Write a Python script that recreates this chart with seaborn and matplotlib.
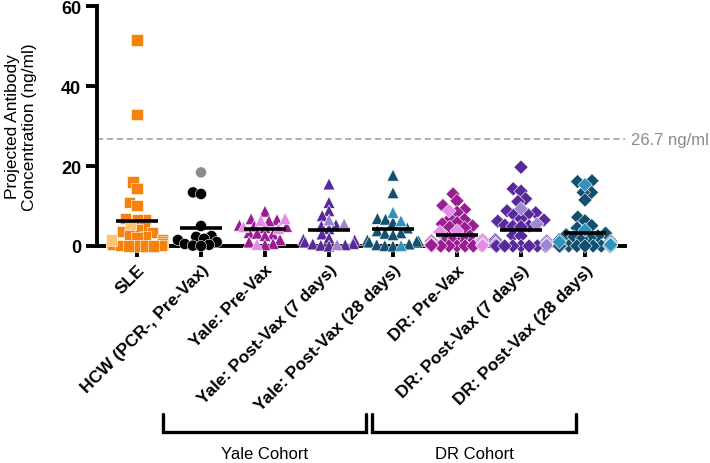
import warnings
import pandas as pd
import matplotlib.pyplot as plt
import matplotlib.transforms as mtransforms
from matplotlib.lines import Line2D
import seaborn as sns

warnings.filterwarnings("ignore")

# ================================================================
# DATA
# ================================================================
groups = ["SLE", "HCW (PCR-, Pre-Vax)", "Yale: Pre-Vax", "Yale: Post-Vax (7 days)",
          "Yale: Post-Vax (28 days)", "DR: Pre-Vax", "DR: Post-Vax (7 days)",
          "DR: Post-Vax (28 days)"]

sle_dark = [51.5, 32.8, 16.0, 14.3, 10.8, 10.2, 6.8, 6.7, 6.5, 4.5, 4.0, 3.6, 3.3, 2.8,
            2.3, 2.0, 1.5, 1.2, 1.0, 0.8, 0.5, 0.3, 0.2, 0.1, 0.0, 0.0, 0.0, 0.0]
sle_light = [5.3, 1.5]

hcw_dark = [13.4, 13.0, 5.0, 2.5, 2.3, 1.8, 1.5, 1.0, 0.5, 0.3, 0.1, 0.0]
hcw_light = [18.4]

yale_pre_dark = [8.7, 6.8, 6.6, 6.3, 5.2, 5.0, 4.9, 4.6, 3.4, 3.2, 3.0, 2.6, 1.6, 1.0, 0.6, 0.3]
yale_pre_light = [6.9, 6.4, 4.8, 4.4, 0.4]

yale_d7_dark = [15.5, 10.9, 8.8, 7.6, 5.3, 5.0, 4.3, 3.0, 2.0, 1.7, 1.5, 1.0, 0.6, 0.5,
                0.3, 0.2, 0.0]
yale_d7_light = [6.5, 5.5, 0.3]

yale_d28_dark = [17.7, 13.3, 6.9, 6.7, 5.9, 4.5, 3.8, 3.3, 3.2, 2.8, 1.5, 1.3, 1.2, 1.0,
                 0.5, 0.3, 0.1, 0.0]
yale_d28_light = [8.4, 6.3, 0.1]

dr_pre_dark = [13.0, 11.3, 10.1, 9.1, 8.4, 6.8, 6.6, 5.8, 5.5, 5.0, 4.7, 4.5, 2.5, 2.2,
               2.0, 1.8, 1.5, 1.3, 1.0, 0.8, 0.6, 0.5, 0.3, 0.2, 0.1, 0.0, 0.0, 0.0,
               0.1, 0.2, 0.3, 0.0, 0.4, 0.5, 0.2, 0.1, 0.3, 0.1, 0.2, 0.0]
dr_pre_light = [8.8, 3.8, 3.5, 1.2, 0.4, 0.1]

dr_d7_dark = [19.7, 14.3, 13.7, 11.8, 11.1, 8.8, 8.3, 7.9, 7.8, 6.8, 6.5, 6.2, 5.2, 5.0,
              4.9, 4.8, 2.6, 2.5, 1.5, 1.2, 1.0, 0.8, 0.6, 0.5, 0.4, 0.3, 0.2, 0.2, 0.1,
              0.1, 0.0, 0.0, 0.0, 0.0, 0.0, 0.0, 0.0, 0.0]
dr_d7_light = [9.3, 5.5, 0.3, 0.2]

dr_d28_dark = [16.3, 16.1, 13.4, 13.4, 11.5, 7.2, 6.3, 5.1, 4.5, 3.2, 2.8, 2.5, 2.3, 2.0,
               1.8, 1.5, 1.2, 1.0, 0.8, 0.6, 0.5, 0.4, 0.3, 0.2, 0.2, 0.1, 0.1, 0.0,
               0.0, 0.0, 0.0, 0.0, 0.0, 0.0, 0.0, 0.0, 0.0, 0.0]
dr_d28_light = [15.3, 4.0, 1.0, 0.5, 0.3]

dark_values = [sle_dark, hcw_dark, yale_pre_dark, yale_d7_dark, yale_d28_dark,
               dr_pre_dark, dr_d7_dark, dr_d28_dark]
light_values = [sle_light, hcw_light, yale_pre_light, yale_d7_light, yale_d28_light,
                dr_pre_light, dr_d7_light, dr_d28_light]

dark_colors = ["#F5820F", "#000000", "#9A1E92", "#58299A", "#134F6E",
               "#9A1E92", "#58299A", "#134F6E"]
light_colors = ["#FFC46E", "#8C8C8C", "#E48CE6", "#9F86D4", "#2F93BD",
                "#E48CE6", "#9F86D4", "#2F93BD"]
markers = ["s", "o", "^", "^", "^", "D", "D", "D"]
marker_sizes = [8, 8, 8.5, 8.5, 8.5, 7.3, 7.3, 7.3]

threshold = 26.7

# ================================================================
# BUILD TABLE
# ================================================================
rows = []
palette = {}
for g, dv, lv, dc, lc in zip(groups, dark_values, light_values, dark_colors, light_colors):
    for v in dv:
        rows.append({"group": g, "value": v, "key": g + "|dark"})
    for v in lv:
        rows.append({"group": g, "value": v, "key": g + "|light"})
    palette[g + "|dark"] = dc
    palette[g + "|light"] = lc
df = pd.DataFrame(rows)

# ================================================================
# PLOT
# ================================================================
sns.set_style("ticks", {"axes.edgecolor": "black", "xtick.color": "black",
                        "ytick.color": "black", "text.color": "black",
                        "axes.labelcolor": "black"})
plt.rcParams["font.family"] = ["Liberation Sans", "DejaVu Sans"]

fig = plt.figure(figsize=(7.1, 4.64), dpi=100)
ax = fig.add_axes([97 / 710, 1 - 247 / 464, (625 - 97) / 710, (247 - 7) / 464])

# swarm laid out with a slightly smaller marker so points pack tightly
# (GraphPad-like), then drawn with the full marker size
collections_by_group = []
for g, m in zip(groups, markers):
    n_before = len(ax.collections)
    sub = df[df["group"] == g]
    sns.swarmplot(data=sub, x="group", y="value", hue="key", order=groups,
                  palette=palette, marker=m, size=5.2, edgecolor="white",
                  linewidth=0.4, legend=False, ax=ax, zorder=3)
    collections_by_group.append(ax.collections[n_before:])

ax.set_xlim(-0.625, 7.625)
ax.set_ylim(0, 60)
fig.canvas.draw()

for cols, ms in zip(collections_by_group, marker_sizes):
    for c in cols:
        if "draw" in c.__dict__:
            del c.draw
        c.set_sizes([ms ** 2])
        c.set_clip_on(False)

# mean lines
means = df.groupby("group")["value"].mean()
for i, g in enumerate(groups):
    ax.hlines(means[g], i - 0.33, i + 0.33, color="black", lw=2.6, zorder=6)

# threshold line
ax.axhline(threshold, ls=(0, (4, 2.5)), color="#9a9a9a", lw=1.1, zorder=1)
trans = mtransforms.blended_transform_factory(ax.transAxes, ax.transData)
ax.text(1.012, threshold, f"{threshold} ng/ml", transform=trans, va="center",
        ha="left", color="#8a8a8a", fontsize=12)

ax.set_yticks([0, 20, 40, 60])
ax.set_xlabel("")
ax.set_ylabel("Projected Antibody\nConcentration (ng/ml)", fontsize=12.5, labelpad=17)

sns.despine(ax=ax)
for side in ["left", "bottom"]:
    ax.spines[side].set_linewidth(2.8)
ax.tick_params(axis="both", width=2.8, length=8, labelsize=13)
for lab in ax.get_yticklabels():
    lab.set_fontweight("bold")
ax.set_xticks(range(len(groups)))
ax.set_xticklabels(groups, rotation=45, ha="right", rotation_mode="anchor",
                   fontweight="bold", fontsize=12.5)

# cohort brackets (figure pixel coords)
def px(x, y):
    return x / 710, 1 - y / 464

for x0, x1, label in [(163, 366, "Yale Cohort"), (372, 576, "DR Cohort")]:
    xs = [px(x0, 415)[0], px(x0, 433)[0], px(x1, 433)[0], px(x1, 415)[0]]
    ys = [px(x0, 415)[1], px(x0, 433)[1], px(x1, 433)[1], px(x1, 415)[1]]
    fig.add_artist(Line2D(xs, ys, transform=fig.transFigure, color="black", lw=2.4,
                          solid_joinstyle="miter"))
    fig.text(*px((x0 + x1) / 2, 455), label, ha="center", va="center", fontsize=12)

fig.savefig("out.png", dpi=100)
